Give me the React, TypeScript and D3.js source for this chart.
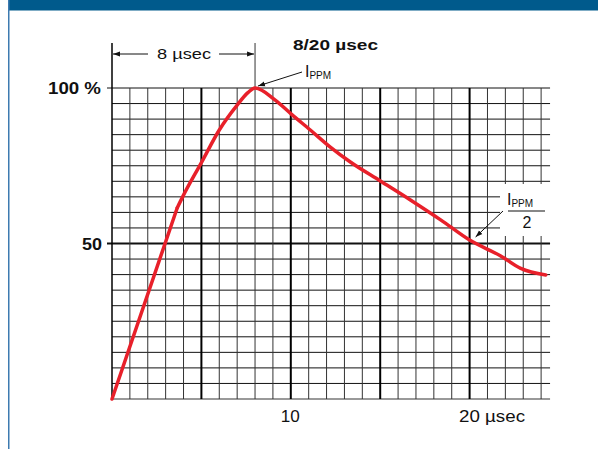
import React from "react";
import * as d3 from "d3";

const riseTime = [0, 3.65];
const riseCurrent = [0, 61.5];
const curveTime = [3.65, 3.95, 5.0, 6.0, 7.0, 7.6, 8.0, 9.13, 10.03, 11.09, 12.21, 13.33, 15.01, 16.69, 18.38, 20.0, 21.74, 22.86, 24.26];
const curveCurrent = [61.5, 65, 76, 86.5, 94.5, 98.5, 100, 96.1, 91.6, 86.5, 81.0, 76.2, 70.1, 64.0, 57.6, 51.1, 46, 42, 39.9];

const xTicks = [10, 20];
const xTickLabels = ["10", "20 µsec"];
const yTicks = [50, 100];
const yTickLabels = ["50", "100 %"];

const W = 598;
const H = 449;
const FONT = "'Liberation Sans', Arial, Helvetica, sans-serif";

export default function App() {
  const x = d3.scaleLinear().domain([0, 24.5]).range([112, 112 + 17.88 * 24.5]);
  const y = d3.scaleLinear().domain([0, 100]).range([399, 88]);

  const risePts: [number, number][] = riseTime.map((t, i) => [t, riseCurrent[i]]);
  const curvePts: [number, number][] = curveTime.map((t, i) => [t, curveCurrent[i]]);
  const lin = d3.line<[number, number]>().x((d) => x(d[0])).y((d) => y(d[1]));
  const smooth = d3
    .line<[number, number]>()
    .x((d) => x(d[0]))
    .y((d) => y(d[1]))
    .curve(d3.curveMonotoneX);

  const vLines = d3.range(0, 25);
  const hLines = d3.range(0, 101, 5);
  const xL = x(0);
  const xR = x(24.5);
  const yTop = 43;
  const SG = "spacingAndGlyphs";

  return (
    <svg
      width={W}
      height={H}
      style={{ position: "absolute", left: 0, top: 0, background: "#fff" }}
      fontFamily={FONT}
    >
      <defs>
        <marker id="ah" viewBox="0 0 10 10" refX="10" refY="5" markerWidth="7" markerHeight="7" orient="auto-start-reverse" markerUnits="userSpaceOnUse">
          <path d="M0,1.5 L10,5 L0,8.5 Z" fill="#111" />
        </marker>
      </defs>
      {/* banner */}
      <rect x={8} y={0} width={W - 8} height={10.5} fill="#005a8c" />
      <line x1={8.75} y1={0} x2={8.75} y2={H} stroke="#3d7ab0" strokeWidth={1.5} />

      {/* grid horizontal */}
      {hLines.map((p) => (
        <line
          key={"h" + p}
          x1={p === 50 || p === 100 ? xL - 5 : xL}
          x2={xR}
          y1={y(p)}
          y2={y(p)}
          stroke={p === 0 ? "#777" : "#111"}
          strokeWidth={p === 50 ? 2 : p === 0 ? 1.5 : 1}
        />
      ))}
      {/* grid vertical */}
      {vLines.map((t) => (
        <line
          key={"v" + t}
          x1={x(t)}
          x2={x(t)}
          y1={t === 0 || t === 8 ? yTop : y(100)}
          y2={y(0)}
          stroke={t % 5 === 0 ? "#000" : "#333"}
          strokeWidth={t % 5 === 0 && t > 0 ? 2 : t === 0 ? 1.5 : 1}
        />
      ))}

      {/* curve */}
      <path d={lin(risePts) || ""} fill="none" stroke="#e8202a" strokeWidth={3.5} strokeLinecap="round" />
      <path d={smooth(curvePts) || ""} fill="none" stroke="#e8202a" strokeWidth={3.5} strokeLinejoin="round" strokeLinecap="round" />

      {/* y labels */}
      {yTicks.map((v, i) => (
        <text key={"yl" + v} x={i === 1 ? 48 : 82} y={y(v) + 6} fontSize={16.5} fontWeight="bold" fill="#111"
          textLength={i === 1 ? 53 : 20} lengthAdjust={SG}>
          {yTickLabels[i]}
        </text>
      ))}
      {/* x labels */}
      <text x={x(xTicks[0]) - 10} y={422} fontSize={16} fill="#111" textLength={19} lengthAdjust={SG}>{xTickLabels[0]}</text>
      <text x={459} y={422} fontSize={16} fill="#111" textLength={66} lengthAdjust={SG}>{xTickLabels[1]}</text>

      {/* title */}
      <text x={293} y={50} fontSize={15.5} fontWeight="bold" fill="#111" textLength={85} lengthAdjust={SG}>8/20 µsec</text>

      {/* 8 µsec dimension */}
      <line x1={148} y1={54} x2={xL + 1} y2={54} stroke="#111" strokeWidth={1} markerEnd="url(#ah)" />
      <line x1={219} y1={54} x2={x(8) - 1} y2={54} stroke="#111" strokeWidth={1} markerEnd="url(#ah)" />
      <text x={157} y={59} fontSize={15} fill="#111" textLength={54} lengthAdjust={SG}>8 µsec</text>

      {/* IPPM at peak */}
      <line x1={302} y1={72} x2={x(8) + 3} y2={y(100) - 2} stroke="#111" strokeWidth={1} markerEnd="url(#ah)" />
      <text x={305} y={77} fontSize={16} fill="#111">
        I<tspan fontSize={10} dy={2}>PPM</tspan>
      </text>

      {/* IPPM/2 */}
      <rect x={500} y={184} width={52} height={52} fill="#fff" />
      <line x1={503} y1={211} x2={x(20) + 6} y2={237} stroke="#111" strokeWidth={1} markerEnd="url(#ah)" />
      <text x={507} y={205} fontSize={16} fill="#111">
        I<tspan fontSize={10} dy={2}>PPM</tspan>
      </text>
      <line x1={508} y1={211} x2={545} y2={211} stroke="#111" strokeWidth={1.2} />
      <text x={527} y={228} textAnchor="middle" fontSize={16} fill="#111">2</text>
    </svg>
  );
}
